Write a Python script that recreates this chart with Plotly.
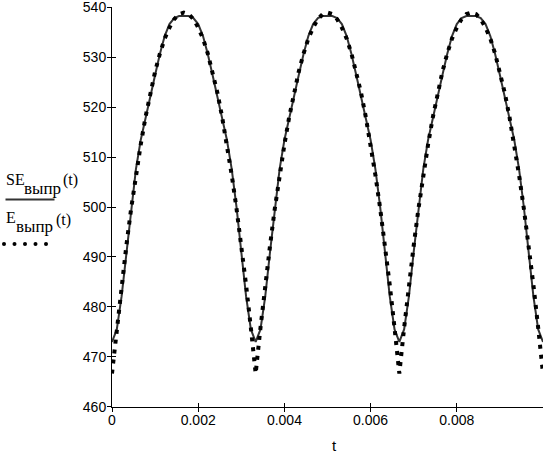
import numpy as np
import plotly.graph_objects as go

# ---- data ----
t = np.linspace(0, 0.01, 91)

E_vypr = [
    466.7, 475.8, 484.4, 492.3, 499.7, 506.4, 512.5, 518.0, 522.9, 527.1, 530.7,
    533.7, 535.9, 537.6, 538.6, 538.9, 538.6, 537.6, 535.9, 533.7, 530.7,
    527.1, 522.9, 518.0, 512.5, 506.4, 499.7, 492.3, 484.4, 475.8, 466.7,
    475.8, 484.4, 492.3, 499.7, 506.4, 512.5, 518.0, 522.9, 527.1, 530.7,
    533.7, 535.9, 537.6, 538.6, 538.9, 538.6, 537.6, 535.9, 533.7, 530.7,
    527.1, 522.9, 518.0, 512.5, 506.4, 499.7, 492.3, 484.4, 475.8, 466.7,
    475.8, 484.4, 492.3, 499.7, 506.4, 512.5, 518.0, 522.9, 527.1, 530.7,
    533.7, 535.9, 537.6, 538.6, 538.9, 538.6, 537.6, 535.9, 533.7, 530.7,
    527.1, 522.9, 518.0, 512.5, 506.4, 499.7, 492.3, 484.4, 475.8, 466.7,
]

SE_vypr = [
    473.0, 475.5, 482.1, 491.0, 500.0, 507.6, 513.4, 517.9, 522.1, 526.4, 530.6,
    534.2, 536.6, 537.8, 538.2, 538.2, 538.2, 537.8, 536.6, 534.2, 530.6,
    526.4, 522.1, 517.9, 513.4, 507.6, 500.0, 491.0, 482.1, 475.5, 473.0,
    475.5, 482.1, 491.0, 500.0, 507.6, 513.4, 517.9, 522.1, 526.4, 530.6,
    534.2, 536.6, 537.8, 538.2, 538.2, 538.2, 537.8, 536.6, 534.2, 530.6,
    526.4, 522.1, 517.9, 513.4, 507.6, 500.0, 491.0, 482.1, 475.5, 473.0,
    475.5, 482.1, 491.0, 500.0, 507.6, 513.4, 517.9, 522.1, 526.4, 530.6,
    534.2, 536.6, 537.8, 538.2, 538.2, 538.2, 537.8, 536.6, 534.2, 530.6,
    526.4, 522.1, 517.9, 513.4, 507.6, 500.0, 491.0, 482.1, 475.5, 473.0,
]

x_ticks = [0, 0.002, 0.004, 0.006, 0.008]
x_ticktext = ["0", "0.002", "0.004", "0.006", "0.008"]
y_ticks = [460, 470, 480, 490, 500, 510, 520, 530, 540]

# ---- layout geometry (pixels) ----
W, H = 555, 456
ML, MR, MT, MB = 112, 12, 7, 49
PW, PH = W - ML - MR, H - MT - MB
Y_RANGE = [459.98, 540.02]


def px(xp):
    return (xp - ML) / PW


def py(yp):
    return (H - MB - yp) / PH


fig = go.Figure()
fig.add_trace(go.Scatter(x=t, y=SE_vypr, mode="lines",
                         line=dict(color="#333333", width=2),
                         showlegend=False, hoverinfo="skip"))
fig.add_trace(go.Scatter(x=t, y=E_vypr, mode="lines",
                         line=dict(color="#000000", width=4, dash="4px,6px"),
                         showlegend=False, hoverinfo="skip"))
# dummy trace for the overlay axes (inner halves of the crossing ticks)
fig.add_trace(go.Scatter(x=[None], y=[None], xaxis="x2", yaxis="y2",
                         showlegend=False, hoverinfo="skip"))

tickfont = dict(family="Liberation Sans, Arial", size=14, color="black")
fig.update_layout(
    width=W, height=H,
    margin=dict(l=ML, r=MR, t=MT, b=MB, autoexpand=False),
    paper_bgcolor="white", plot_bgcolor="white",
    xaxis=dict(range=[0, 0.01], tickvals=x_ticks, ticktext=x_ticktext,
               ticks="outside", ticklen=4, tickwidth=1, tickcolor="black",
               showline=True, linecolor="black", linewidth=1, automargin=False,
               ticklabelstandoff=-4, ticklabeloverflow="allow",
               showgrid=False, zeroline=False, tickfont=tickfont),
    yaxis=dict(range=Y_RANGE, tickvals=y_ticks, automargin=False,
               ticks="outside", ticklen=4, tickwidth=1, tickcolor="black",
               showline=True, linecolor="black", linewidth=1,
               ticklabelstandoff=-2, ticklabeloverflow="allow",
               showgrid=False, zeroline=False, tickfont=tickfont),
    xaxis2=dict(range=[0, 0.01], tickvals=x_ticks, overlaying="x", anchor="y",
                side="bottom", ticks="inside", ticklen=4, tickwidth=1,
                tickcolor="black", showticklabels=False, showline=False,
                showgrid=False, zeroline=False, automargin=False),
    yaxis2=dict(range=Y_RANGE, tickvals=y_ticks, overlaying="y", anchor="x",
                side="left", ticks="inside", ticklen=4, tickwidth=1,
                tickcolor="black", showticklabels=False, showline=False,
                showgrid=False, zeroline=False, automargin=False),
)

SERIF = "Liberation Serif, Times New Roman, serif"


def label(text, xl, baseline, size):
    desc = 0.216 * size + 1
    fig.add_annotation(text=text, xref="paper", yref="paper",
                       x=px(xl), y=py(baseline + desc),
                       xanchor="left", yanchor="bottom",
                       showarrow=False,
                       font=dict(family=SERIF, size=size, color="black"))


label("SE", 4, 186, 16)
label("выпр", 22, 195, 17)
label("(t)", 61, 187, 16)
label("E", 4, 224, 16)
label("выпр", 14, 233, 17)
label("(t)", 54, 227, 16)

# legend sample line for the solid curve
fig.add_shape(type="line", xref="paper", yref="paper",
              x0=px(5.5), x1=px(54.5), y0=py(199.5), y1=py(199.5),
              line=dict(color="#333333", width=2))
# legend sample dots for the dotted curve
for cx in [4, 14.5, 25, 35.5, 46]:
    fig.add_shape(type="circle", xref="paper", yref="paper",
                  x0=px(cx - 2), x1=px(cx + 2), y0=py(246), y1=py(242),
                  line=dict(width=0), fillcolor="black")

# x axis title
fig.add_annotation(text="t", xref="paper", yref="paper",
                   x=px(334), y=py(445), xanchor="center", yanchor="middle",
                   showarrow=False,
                   font=dict(family="Liberation Sans, Arial", size=15, color="black"))

fig.write_html("out.html",
               config={"displayModeBar": False},
               post_script="document.body.style.margin='0px';document.body.style.padding='0px';")
